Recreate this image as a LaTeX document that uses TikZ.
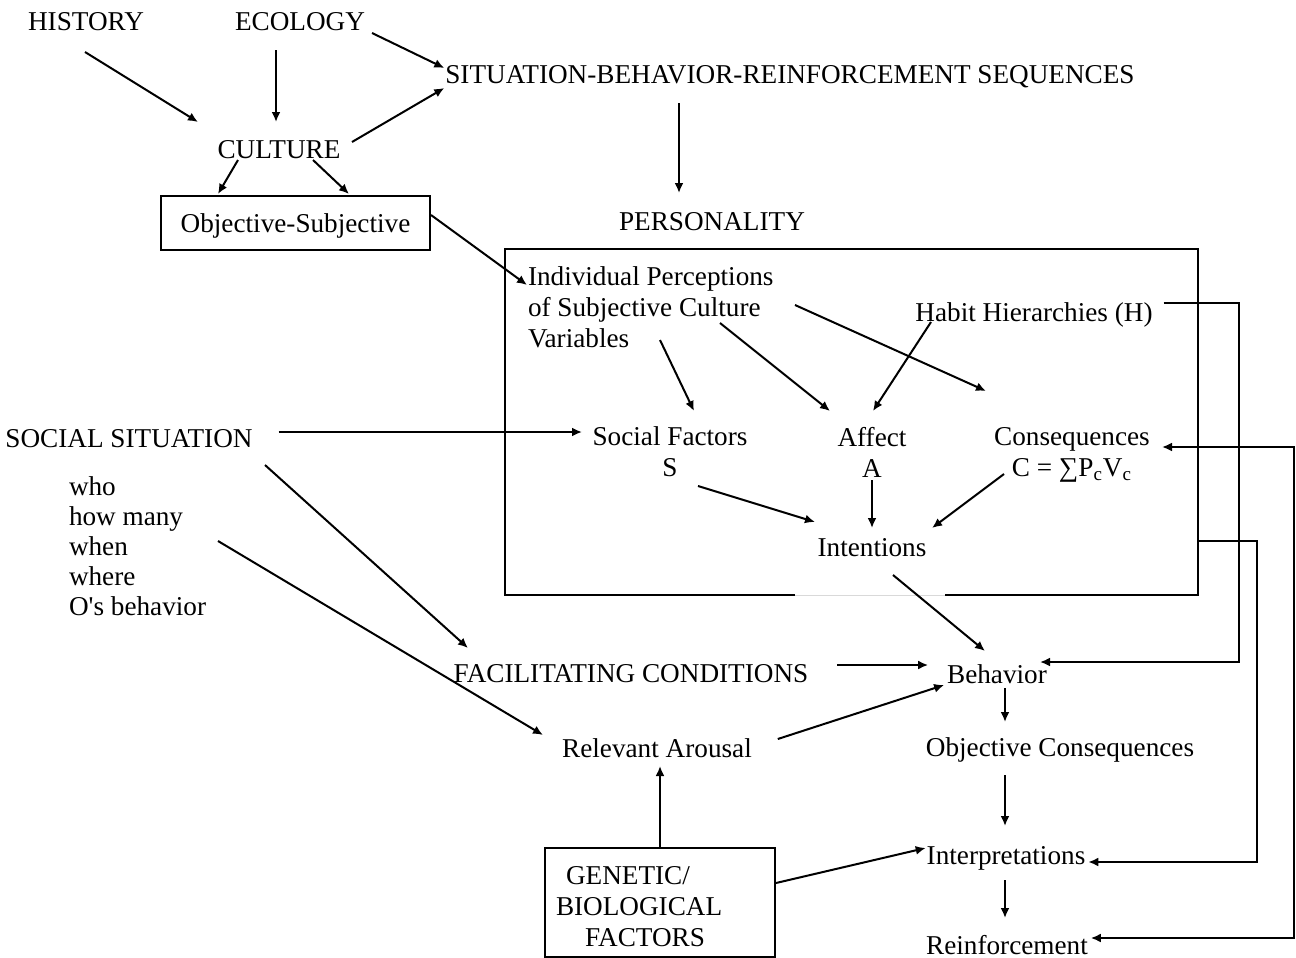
\documentclass[tikz,border=0pt]{standalone}
\usepackage{fontspec}
\setmainfont{Liberation Serif}
\usetikzlibrary{arrows.meta,positioning}

\begin{document}
\begin{tikzpicture}[x=0.5pt,y=-0.5pt,
  font=\fontsize{13.6}{15.5}\selectfont,
  line width=1pt, >={Latex[length=5pt,width=4.5pt]},
  lbl/.style={inner sep=0pt},
  boxed/.style={draw, inner sep=0pt},
  arr/.style={->}]
\useasboundingbox (0,0) rectangle (1296,958);

% Antecedents
\node[lbl] (history) at (86,22) {HISTORY};
\node[lbl] (ecology) at (300,22) {ECOLOGY};
\node[lbl] (sbr) at (790,77) {SITUATION-BEHAVIOR-REINFORCEMENT SEQUENCES};
\node[lbl] (culture) at (279,150) {CULTURE};
\node[boxed, minimum width=134.5pt, minimum height=27pt, text depth=0pt] (objsub) at (295.5,223) {Objective-Subjective};
\node[lbl] (personality) at (712,222) {PERSONALITY};

% Personality box
\node[lbl, minimum width=345.5pt, minimum height=172pt] (pbox) at (851.5,422) {};
\draw ([xshift=46.75pt]pbox.south) -- (pbox.south east) -- (pbox.north east)
  -- (pbox.north west) -- (pbox.south west) -- ([xshift=-28.25pt]pbox.south);
\draw[gray!30, line width=0.4pt] ([xshift=-28.25pt]pbox.south) -- ([xshift=46.75pt]pbox.south);

\node[lbl, align=left, anchor=north west] (indiv) at (527,266)
  {Individual Perceptions\\of Subjective Culture\\Variables};
\node[lbl] (habit) at (1034,315) {Habit Hierarchies (H)};
\node[lbl, align=center] (socf) at (670,452) {Social Factors\\S};
\node[lbl, align=center] (affect) at (872,452) {Affect\\A};
\node[lbl, align=center] (conseq) at (1072,455) {Consequences\\C = ∑P\textsubscript{c}V\textsubscript{c}};
\node[lbl] (intent) at (872,548) {Intentions};

% Social situation
\node[lbl] (ssit) at (129,439) {SOCIAL SITUATION};
\node[lbl, align=left, anchor=north west, font=\fontsize{13.6}{15}\selectfont] (who) at (68,476)
  {who\\how many\\when\\where\\O\textquotesingle s behavior};

% Outcomes
\node[lbl] (facil) at (631,674) {FACILITATING CONDITIONS};
\node[lbl] (behav) at (997,674) {Behavior};
\node[lbl] (arous) at (657,748) {Relevant Arousal};
\node[lbl] (objc) at (1060,750) {Objective Consequences};
\node[lbl] (interp) at (1006,858) {Interpretations};
\node[lbl] (reinf) at (1007,945) {Reinforcement};
\node[boxed, minimum width=115pt, minimum height=54.5pt, text width=104pt, align=left] (genet) at (660,902.5)
  {\hspace*{5pt}\rule{0pt}{13.5pt}GENETIC/\\BIOLOGICAL\\\hspace*{14.5pt}FACTORS};

% Arrows, top part
\draw[arr] ([shift={(-1,30)}]history.center) -- ([shift={(-81,-28)}]culture.center);
\draw[arr] ([shift={(-24,28)}]ecology.center) -- ([shift={(-3,-28)}]culture.center);
\draw[arr] ([shift={(72,11)}]ecology.center) -- ([shift={(0,-9)}]sbr.west);
\draw[arr] ([shift={(73,-8)}]culture.center) -- ([shift={(0,11)}]sbr.west);
\draw[arr] ([shift={(-41,10)}]culture.center) -- ([shift={(58,-1)}]objsub.north west);
\draw[arr] ([shift={(34,10)}]culture.center) -- ([shift={(189,-1)}]objsub.north west);
\draw[arr] ([shift={(0,-8)}]objsub.east) -- ([shift={(0,19)}]indiv.north west);
\draw[arr] ([shift={(-111,26)}]sbr.center) -- ([shift={(-33,-29)}]personality.center);

% Arrows inside personality
\draw[arr] ([shift={(133,74)}]indiv.north west) -- ([shift={(24,-41)}]socf.center);
\draw[arr] ([shift={(193,57)}]indiv.north west) -- ([shift={(-42,-41)}]affect.center);
\draw[arr] ([shift={(268,39)}]indiv.north west) -- ([shift={(-86,-64)}]conseq.center);
\draw[arr] ([shift={(-103,7)}]habit.center) -- ([shift={(1,-41)}]affect.center);
\draw[arr] ([shift={(28,34)}]socf.center) -- ([shift={(-57,-26)}]intent.center);
\draw[arr] ([shift={(0,28)}]affect.center) -- ([shift={(0,-20)}]intent.center);
\draw[arr] ([shift={(-68,19)}]conseq.center) -- ([shift={(60,-20)}]intent.center);

% Arrows, bottom part
\draw[arr] ([shift={(25,-7)}]ssit.east) -- ([shift={(-88,-20)}]socf.center);
\draw[arr] ([shift={(136,26)}]ssit.center) -- ([shift={(-163,-26)}]facil.center);
\draw[arr] ([shift={(150,65)}]who.north west) -- ([shift={(-114,-13)}]arous.center);
\draw[arr] ([shift={(21,27)}]intent.center) -- ([shift={(-12,-23)}]behav.center);
\draw[arr] ([shift={(28,-9)}]facil.east) -- ([shift={(-18,-9)}]behav.west);
\draw[arr] ([shift={(25,-9)}]arous.east) -- ([shift={(-2,11)}]behav.west);
\draw[arr] ([shift={(8,14)}]behav.center) -- ([shift={(-55,-28)}]objc.center);
\draw[arr] ([shift={(-55,25)}]objc.center) -- ([shift={(-1,-32)}]interp.center);
\draw[arr] ([shift={(-1,22)}]interp.center) -- ([shift={(-2,-27)}]reinf.center);
\draw[arr] (genet.north) -- ([shift={(3,18)}]arous.center);
\draw[arr] ([shift={(0,-19.5)}]genet.east) -- ([shift={(0,-10)}]interp.west);

% Feedback lines on the right
\draw[arr] ([shift={(10,-12)}]habit.east) -- ++(75,0) |- ([shift={(43,-12)}]behav.center);
\draw[arr] ([shift={(0,-54)}]pbox.south east) -- ++(59,0) |- ([shift={(2,4)}]interp.east);
\draw[<->] ([shift={(2,-7)}]reinf.east) -- ++(203,0) |- ([shift={(90,-8)}]conseq.center);
\end{tikzpicture}
\end{document}
